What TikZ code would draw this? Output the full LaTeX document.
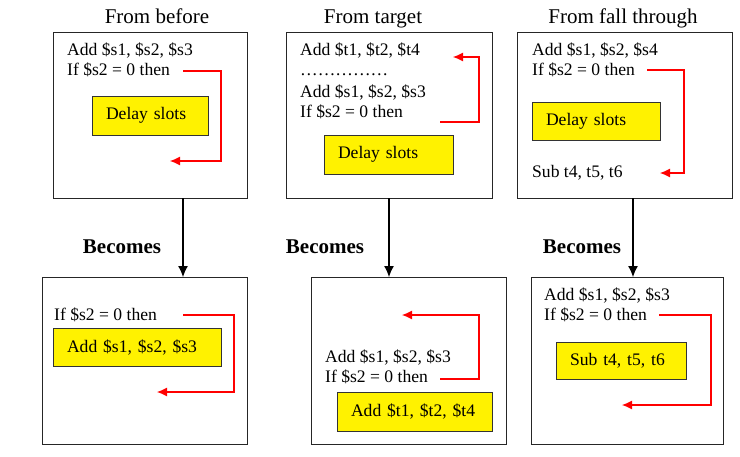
\documentclass[tikz,border=0pt]{standalone}
\usepackage{fontspec}
\setmainfont{Liberation Serif}
\usetikzlibrary{arrows.meta}
\newcommand{\codesize}{\fontsize{17.6}{20}\selectfont}
\newcommand{\headsize}{\fontsize{21}{24}\selectfont}
\tikzstyle{block}=[draw=black!85, line width=1pt, inner sep=0, outer sep=0]
\tikzstyle{slot}=[draw=black!80, line width=0.8pt, fill=yellow, inner xsep=14pt, inner ysep=0,
                  outer sep=0, align=left, font=\codesize]
\tikzstyle{code}=[anchor=base west, inner sep=0, font=\codesize]
\tikzstyle{heading}=[anchor=base, inner sep=0, font=\headsize]
\tikzstyle{becomes}=[anchor=base, inner sep=0, font=\headsize\bfseries]
\tikzstyle{jump}=[draw=red, line width=1.1pt, -{Latex[length=10pt,width=9pt]}]
\tikzstyle{flow}=[draw=black, line width=1.1pt, -{Latex[length=11pt,width=10pt]}]

\begin{document}
\begin{tikzpicture}[x=1pt, y=-1pt]
        \useasboundingbox (0, 0) rectangle (740, 456);
        % Column headings.
        \node[heading] (H1) at (157, 23) {From before};
        \node[heading] (H2) at (373, 23) {From target};
        \node[heading] (H3) at (623, 23) {From fall through};
        % Upper row.
        \node[block, minimum width=194pt, minimum height=166pt] (T1) at (150, 115) {};
        \node[block, minimum width=206pt, minimum height=166pt] (T2) at (389, 115) {};
        \node[block, minimum width=215pt, minimum height=166pt] (T3) at (624.5, 115) {};
        \node[code] (T1add) at (67, 55) {Add \$s1, \$s2, \$s3};
        \node[code] (T1if) at (67, 75) {If \$s2 = 0 then};
        \node[slot, text width=88pt, minimum height=39pt] (T1slot) at (150, 115.5) {Delay slots};
        \node[code] (T2add) at (300, 55) {Add \$t1, \$t2, \$t4};
        \node[code] (T2dots) at (300, 75) {……………};
        \node[code] (T2adds) at (300, 97) {Add \$s1, \$s2, \$s3};
        \node[code] (T2if) at (300, 117) {If \$s2 = 0 then};
        \node[slot, text width=101pt, minimum height=39pt] (T2slot) at (388.5, 154.5) {Delay slots};
        \node[code] (T3add) at (532, 55) {Add \$s1, \$s2, \$s4};
        \node[code] (T3if) at (532, 75) {If \$s2 = 0 then};
        \node[slot, text width=100pt, minimum height=38pt] (T3slot) at (596, 121) {Delay slots};
        \node[code] (T3sub) at (532, 177) {Sub t4, t5, t6};
        % Lower row.
        \node[block, minimum width=205pt, minimum height=167pt] (B1) at (144.5, 360.5) {};
        \node[block, minimum width=195pt, minimum height=167pt] (B2) at (408.5, 360.5) {};
        \node[block, minimum width=192pt, minimum height=167pt] (B3) at (627, 360.5) {};
        \node[becomes] (W1) at (122, 253) {Becomes};
        \node[becomes] (W2) at (325, 253) {Becomes};
        \node[becomes] (W3) at (582, 253) {Becomes};
        \node[code] (B1if) at (54, 320) {If \$s2 = 0 then};
        \node[slot, text width=140pt, minimum height=38pt] (B1slot) at (137, 347) {Add \$s1, \$s2, \$s3};
        \node[code] (B2add) at (325, 362) {Add \$s1, \$s2, \$s3};
        \node[code] (B2if) at (325, 382) {If \$s2 = 0 then};
        \node[slot, text width=127pt, minimum height=39pt] (B2slot) at (414.5, 411.5) {Add \$t1, \$t2, \$t4};
        \node[code] (B3add) at (544, 300) {Add \$s1, \$s2, \$s3};
        \node[code] (B3if) at (544, 320) {If \$s2 = 0 then};
        \node[slot, text width=102pt, minimum height=37pt] (B3slot) at (621, 360.5) {Sub t4, t5, t6};
        % Branch targets.
        \coordinate (J1a) at (183, 71);
        \coordinate (J1b) at (221, 161);
        \coordinate (J1e) at (170, 161);
        \coordinate (J2a) at (440, 122);
        \coordinate (J2b) at (479, 57);
        \coordinate (J2e) at (453, 57);
        \coordinate (J3a) at (647, 70);
        \coordinate (J3b) at (684, 173);
        \coordinate (J3e) at (660, 173);
        \coordinate (K1a) at (183, 315);
        \coordinate (K1b) at (234, 392);
        \coordinate (K1e) at (157, 392);
        \coordinate (K2a) at (440, 379);
        \coordinate (K2b) at (479, 315);
        \coordinate (K2e) at (402, 315);
        \coordinate (K3a) at (659, 315);
        \coordinate (K3b) at (711, 405);
        \coordinate (K3e) at (622, 405);
        \draw[jump] (J1a) -| (J1b) -- (J1e);
        \draw[jump] (J2a) -| (J2b) -- (J2e);
        \draw[jump] (J3a) -| (J3b) -- (J3e);
        \draw[jump] (K1a) -| (K1b) -- (K1e);
        \draw[jump] (K2a) -| (K2b) -- (K2e);
        \draw[jump] (K3a) -| (K3b) -- (K3e);
        % Upper row to lower row.
        \draw[flow] ([xshift=33pt]T1.south) -- ([xshift=33pt]T1.south |- B1.north);
        \draw[flow] (T2.south) -- (T2.south |- B2.north);
        \draw[flow] ([xshift=8.5pt]T3.south) -- ([xshift=8.5pt]T3.south |- B3.north);
    \end{tikzpicture}
\end{document}
